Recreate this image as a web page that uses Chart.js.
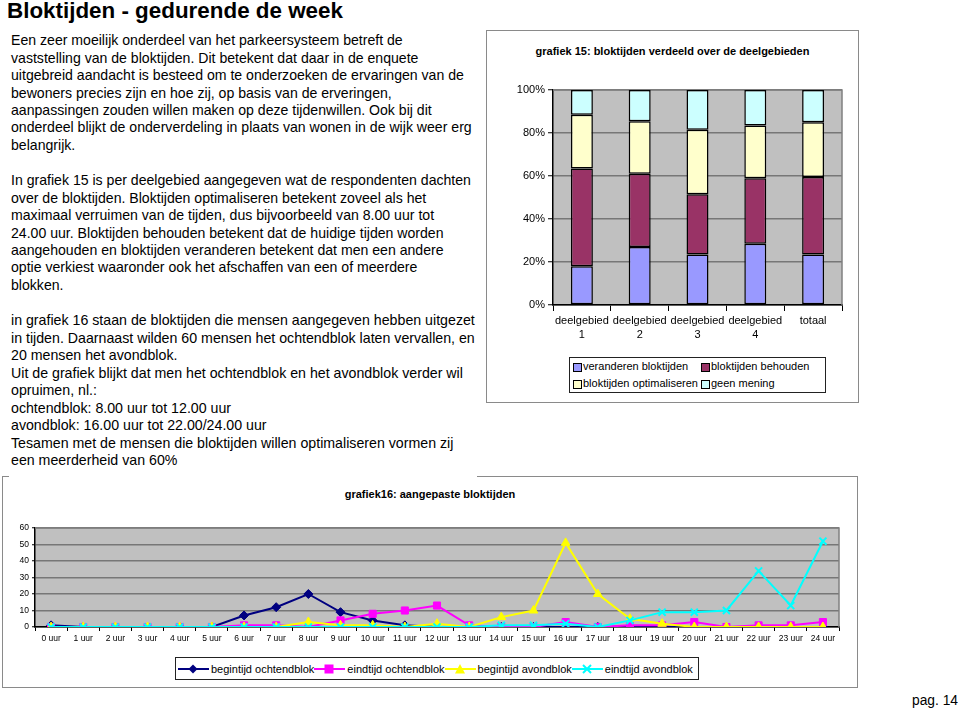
<!DOCTYPE html>
<html>
<head>
<meta charset="utf-8">
<script src="https://cdn.jsdelivr.net/npm/chart.js@4.4.1/dist/chart.umd.min.js"></script>
<style>
  html, body { margin: 0; padding: 0; background: #fff; }
  body { width: 960px; height: 709px; position: relative; overflow: hidden;
         font-family: 'Liberation Sans', Arial, sans-serif; color: #000; }
  .abs { position: absolute; }
  h1 { position: absolute; left: 7px; top: 0; margin: 0; font-size: 22.4px; line-height: 22px; font-weight: bold; white-space: nowrap; }
  .para { position: absolute; left: 11px; font-size: 14.1px; line-height: 17.4px; white-space: nowrap; }
  .box { position: absolute; border: 1px solid #8a8a8a; box-sizing: border-box; }
  .ctitle { position: absolute; font-size: 11px; font-weight: bold; white-space: nowrap; }
  .legend { position: absolute; border: 1px solid #222; box-sizing: border-box; background: #fff; font-size: 11px; }
  .sw { position: absolute; width: 7px; height: 7px; border: 1px solid #000; }
  .lt { position: absolute; white-space: nowrap; line-height: 13px; }
  .litem { display: flex; align-items: center; white-space: nowrap; }
  .litem svg { display: block; margin-right: 2px; }
</style>
</head>
<body>

<h1>Bloktijden - gedurende de week</h1>

<div class="para" style="top:32.3px">
Een zeer moeilijk onderdeel van het parkeersysteem betreft de<br>
vaststelling van de bloktijden. Dit betekent dat daar in de enquete<br>
uitgebreid aandacht is besteed om te onderzoeken de ervaringen van de<br>
bewoners precies zijn en hoe zij, op basis van de erveringen,<br>
aanpassingen zouden willen maken op deze tijdenwillen. Ook bij dit<br>
onderdeel blijkt de onderverdeling in plaats van wonen in de wijk weer erg<br>
belangrijk.
</div>

<div class="para" style="top:172.3px">
In grafiek 15 is per deelgebied aangegeven wat de respondenten dachten<br>
over de bloktijden. Bloktijden optimaliseren betekent zoveel als het<br>
maximaal verruimen van de tijden, dus bijvoorbeeld van 8.00 uur tot<br>
24.00 uur. Bloktijden behouden betekent dat de huidige tijden worden<br>
aangehouden en bloktijden veranderen betekent dat men een andere<br>
optie verkiest waaronder ook het afschaffen van een of meerdere<br>
blokken.
</div>

<div class="para" style="top:312.3px; line-height:17.5px; font-size:14.2px">
in grafiek 16 staan de bloktijden die mensen aangegeven hebben uitgezet<br>
in tijden. Daarnaast wilden 60 mensen het ochtendblok laten vervallen, en<br>
20 mensen het avondblok.<br>
Uit de grafiek blijkt dat men het ochtendblok en het avondblok verder wil<br>
opruimen, nl.:<br>
ochtendblok: 8.00 uur tot 12.00 uur<br>
avondblok: 16.00 uur tot 22.00/24.00 uur<br>
Tesamen met de mensen die bloktijden willen optimaliseren vormen zij<br>
een meerderheid van 60%
</div>

<!-- grafiek 15 -->
<div class="box" style="left:486px; top:30px; width:373px; height:373px;"></div>
<div class="ctitle" style="left:486px; width:373px; text-align:center; top:45px;">grafiek 15: bloktijden verdeeld over de deelgebieden</div>
<canvas id="barChart" class="abs" width="368" height="370" style="left:488px; top:31px;"></canvas>
<div class="legend" style="left:569px; top:357px; width:257px; height:36px;">
  <div class="sw" style="left:3px; top:5px; background:#9999FF"></div>
  <div class="lt" style="left:13px; top:2px;">veranderen bloktijden</div>
  <div class="sw" style="left:131px; top:5px; background:#993366"></div>
  <div class="lt" style="left:141px; top:2px;">bloktijden behouden</div>
  <div class="sw" style="left:3px; top:22px; background:#FFFFCC"></div>
  <div class="lt" style="left:13px; top:19px;">bloktijden optimaliseren</div>
  <div class="sw" style="left:131px; top:22px; background:#CCFFFF"></div>
  <div class="lt" style="left:141px; top:19px;">geen mening</div>
</div>

<!-- grafiek 16 -->
<div class="box" style="left:2px; top:476px; width:856px; height:212px;"></div>
<div class="abs" style="left:9px; top:470px; width:468px; height:10px; background:#fff;"></div>
<div class="ctitle" style="left:300px; width:260px; text-align:center; top:488px;">grafiek16: aangepaste bloktijden</div>
<canvas id="lineChart" class="abs" width="853" height="210" style="left:3px; top:477px;"></canvas>
<div class="legend" id="lineLegend" style="left:175px; top:657px; width:524px; height:23px; display:flex; align-items:center; padding-left:2px;"></div>

<div class="abs" style="left:912px; top:691.5px; font-size:13.8px; line-height:17.4px;">pag. 14</div>

<script>
// grafiek 15: percentages per deelgebied
const barCategories = [['deelgebied', '1'], ['deelgebied', '2'], ['deelgebied', '3'], ['deelgebied', '4'], 'totaal'];
const veranderen = [18, 27, 23.5, 28.5, 23.5];
const behouden = [45.5, 34, 28, 30.5, 36];
const optimaliseren = [25, 24.5, 30, 24.5, 25.5];
const geenMening = [11.5, 14.5, 18.5, 16.5, 15];
const percentTicks = [0, 20, 40, 60, 80, 100];

// grafiek 16: aantallen per uur
const hours = ['0 uur', '1 uur', '2 uur', '3 uur', '4 uur', '5 uur', '6 uur', '7 uur', '8 uur', '9 uur',
  '10 uur', '11 uur', '12 uur', '13 uur', '14 uur', '15 uur', '16 uur', '17 uur', '18 uur', '19 uur',
  '20 uur', '21 uur', '22 uur', '23 uur', '24 uur'];
const begintijdOchtend = [1, 0, 0, 0, 0, 0, 7, 12, 20, 9, 4, 1, 0, 0, 0, 0, 0, 0, 0, 0, 0, 0, 0, 0, 0];
const eindtijdOchtend = [0, 0, 0, 0, 0, 0, 1, 1, 0, 4, 8, 10, 13, 1, 0, 0, 3, 0, 1, 1, 3, 0, 1, 1, 3];
const begintijdAvond = [0, 0, 0, 0, 0, 0, 0, 0, 3, 1, 1, 0, 2, 0, 6, 10, 51, 20, 5, 2, 0, 0, 0, 0, 0];
const eindtijdAvond = [0, 0, 0, 0, 0, 0, 0, 0, 0, 0, 0, 0, 0, 0, 1, 1, 2, 0, 4, 9, 9, 10, 34, 13, 52];

Chart.defaults.font.family = "'Liberation Sans', Arial, sans-serif";
Chart.defaults.color = '#000';

// grijze achtergrond van het plotgebied, zoals in Excel
const plotBg = {
  id: 'plotBg',
  beforeDraw(chart) {
    const { ctx, chartArea: a } = chart;
    ctx.save();
    ctx.fillStyle = '#C0C0C0';
    ctx.fillRect(a.left, a.top, a.width, a.height);
    ctx.restore();
  },
  beforeDatasetsDraw(chart) {
    const { ctx, chartArea: a } = chart;
    ctx.save();
    ctx.strokeStyle = '#808080';
    ctx.lineWidth = 1.5;
    ctx.beginPath();
    ctx.moveTo(a.left, a.top);
    ctx.lineTo(a.right, a.top);
    ctx.lineTo(a.right, a.bottom);
    ctx.stroke();
    ctx.restore();
  }
};

const barSet = (label, data, color) => ({
  label, data,
  backgroundColor: color,
  borderColor: '#000',
  borderWidth: 1.5,
  borderSkipped: false,
  categoryPercentage: 1,
  barPercentage: 0.38
});

new Chart(document.getElementById('barChart'), {
  type: 'bar',
  data: {
    labels: barCategories,
    datasets: [
      barSet('veranderen bloktijden', veranderen, '#9999FF'),
      barSet('bloktijden behouden', behouden, '#993366'),
      barSet('bloktijden optimaliseren', optimaliseren, '#FFFFCC'),
      barSet('geen mening', geenMening, '#CCFFFF')
    ]
  },
  plugins: [plotBg],
  options: {
    responsive: false,
    devicePixelRatio: 1,
    animation: false,
    layout: { padding: { top: 59, right: 14, bottom: 56, left: 0 } },
    plugins: { legend: { display: false }, tooltip: { enabled: false } },
    scales: {
      x: {
        stacked: true,
        grid: { drawOnChartArea: false, drawTicks: true, tickLength: 6, color: '#000', lineWidth: 1 },
        border: { color: '#000', width: 1.5 },
        ticks: { font: { size: 11, lineHeight: 1.27 }, padding: 3, maxRotation: 0, autoSkip: false },
        afterFit: s => { s.height = 40; }
      },
      y: {
        stacked: true,
        min: 0, max: 100,
        afterBuildTicks: s => { s.ticks = percentTicks.map(v => ({ value: v })); },
        grid: { color: '#777', lineWidth: 1.5, tickLength: 5, tickColor: '#000', tickWidth: 1 },
        border: { color: '#000', width: 1.5 },
        ticks: { font: { size: 11 }, padding: 3, callback: v => v + '%' },
        afterFit: s => { s.width = 65; }
      }
    }
  }
});

const lineSets = [
  { label: 'begintijd ochtendblok', data: begintijdOchtend, color: '#000080', style: 'rectRot', r: 4.5 },
  { label: 'eindtijd ochtendblok', data: eindtijdOchtend, color: '#FF00FF', style: 'rect', r: 5 },
  { label: 'begintijd avondblok', data: begintijdAvond, color: '#FFFF00', style: 'triangle', r: 5 },
  { label: 'eindtijd avondblok', data: eindtijdAvond, color: '#00FFFF', style: 'crossRot', r: 5 }
];

new Chart(document.getElementById('lineChart'), {
  type: 'line',
  data: {
    labels: hours,
    datasets: lineSets.map((s, i) => ({
      label: s.label,
      data: s.data,
      order: lineSets.length - i,
      borderColor: s.color,
      backgroundColor: s.color,
      borderWidth: 2,
      tension: 0,
      pointStyle: s.style,
      pointRadius: s.r,
      pointBorderColor: s.color,
      pointBackgroundColor: s.color,
      pointBorderWidth: s.style === 'crossRot' ? 2 : 1
    }))
  },
  plugins: [plotBg],
  options: {
    responsive: false,
    devicePixelRatio: 1,
    animation: false,
    layout: { padding: { top: 51, right: 17, bottom: 40, left: 0 } },
    plugins: { legend: { display: false }, tooltip: { enabled: false } },
    scales: {
      x: {
        offset: true,
        grid: { offset: true, drawOnChartArea: false, drawTicks: true, tickLength: 4, color: '#000' },
        border: { color: '#000', width: 1.5 },
        ticks: { font: { size: 8.5 }, padding: 3, maxRotation: 0, autoSkip: false },
        afterFit: s => { s.height = 20; }
      },
      y: {
        min: 0, max: 60,
        ticks: { stepSize: 10, font: { size: 8.5 }, padding: 3 },
        grid: { color: '#777', lineWidth: 1.5, tickLength: 3, tickColor: '#000', tickWidth: 1 },
        border: { color: '#000', width: 1.5 },
        afterFit: s => { s.width = 32; }
      }
    }
  }
});

// legenda van grafiek 16: lijn met markering, zoals in het origineel
const markerSvg = (style, color) => {
  let m = '';
  if (style === 'rectRot') m = `<polygon points="15,0.5 19.5,5 15,9.5 10.5,5" fill="${color}"/>`;
  if (style === 'rect') m = `<rect x="10.5" y="0.5" width="9" height="9" fill="${color}"/>`;
  if (style === 'triangle') m = `<polygon points="15,0 20,9.5 10,9.5" fill="${color}"/>`;
  if (style === 'crossRot') m = `<path d="M11,1 L19,9 M19,1 L11,9" stroke="${color}" stroke-width="2"/>`;
  return `<svg width="31" height="10"><line x1="0" y1="5" x2="31" y2="5" stroke="${color}" stroke-width="2"/>${m}</svg>`;
};
document.getElementById('lineLegend').innerHTML = lineSets.map(s =>
  `<div class="litem">${markerSvg(s.style, s.color)}<span>${s.label}</span></div>`).join('');
</script>
</body>
</html>
